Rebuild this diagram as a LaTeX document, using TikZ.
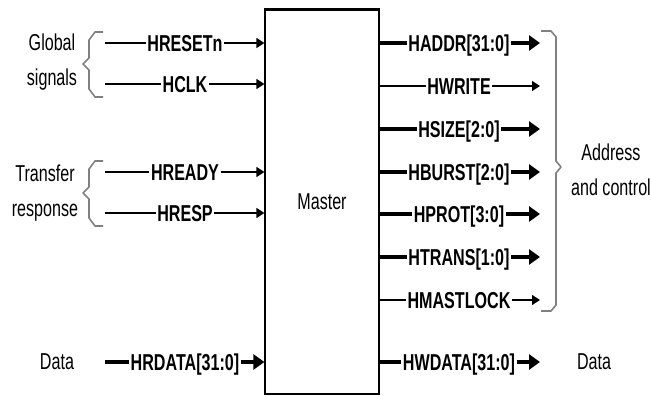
\documentclass[tikz,border=0pt]{standalone}
\usepackage{fontspec}
\setmainfont{Liberation Sans}[FakeStretch=0.7]
\usetikzlibrary{arrows.meta}

\begin{document}
\begin{tikzpicture}[x=1pt, y=-1pt,
  sig/.style={font=\bfseries\fontsize{23}{26}\selectfont, inner sep=1.5pt, text height=16.5pt, text depth=0pt},
  grp/.style={font=\fontsize{23}{35}\selectfont, align=center},
  bus/.style={line width=4pt, >={Triangle[length=11pt,width=15pt]}},
  wire/.style={line width=1.4pt, >={Triangle[length=8pt,width=10pt]}},
  curly/.style={draw=black!50, line width=1.6pt, line join=round}]
\useasboundingbox (0,0) rectangle (651,396);

% the master block
\node[draw, line width=1.2pt, minimum width=114pt, minimum height=384pt, inner sep=0pt, grp] (master) at (322,202) {Master};
\draw[line width=3pt] (master.north west) -- (master.north east);

% inputs
\foreach \y/\nm/\txt/\kind in {43/rst/HRESETn/wire, 84/clk/HCLK/wire, 172/rdy/HREADY/wire, 213/resp/HRESP/wire, 362/rdata/{HRDATA[31:0]}/bus} {
    \coordinate (in\nm) at (105,\y);
    \node[sig] (l\nm) at (185,\y) {\txt};
    \draw[\kind] (in\nm) -- (l\nm.west);
    \draw[\kind,->] (l\nm.east) -- (l\nm.east -| master.west);
}

% outputs
\foreach \y/\nm/\txt/\kind in {43/addr/{HADDR[31:0]}/bus, 86/write/HWRITE/wire, 129/size/{HSIZE[2:0]}/bus, 172/burst/{HBURST[2:0]}/bus, 214/prot/{HPROT[3:0]}/bus, 257/trans/{HTRANS[1:0]}/bus, 300/lock/HMASTLOCK/wire, 362/wdata/{HWDATA[31:0]}/bus} {
    \coordinate (out\nm) at (540,\y);
    \node[sig] (r\nm) at (459,\y) {\txt};
    \draw[\kind] (r\nm.west -| master.east) -- (r\nm.west);
    \draw[\kind,->] (r\nm.east) -- (out\nm);
}

% braces
\draw[curly] (103,32) -- (95,32) -- (89,40) -- (89,58) -- (83,64) -- (89,70) -- (89,89) -- (95,97) -- (103,97);
\draw[curly] (103,161) -- (95,161) -- (89,169) -- (89,187) -- (83,193) -- (89,199) -- (89,218) -- (95,226) -- (103,226);
\draw[curly] (541,31) -- (551,31) -- (556,37) -- (556,161) -- (561,167) -- (556,173) -- (556,305) -- (551,311) -- (541,311);

% group labels
\node[grp] (global) at (52,62) {Global\\signals};
\node[grp] (xfer) at (45,193) {Transfer\\response};
\node[grp] (addrctl) at (611,170) {Address\\and control};
\node[grp] (ldata) at (57,362) {Data};
\node[grp] (rdata) at (594,362) {Data};
\end{tikzpicture}
\end{document}
